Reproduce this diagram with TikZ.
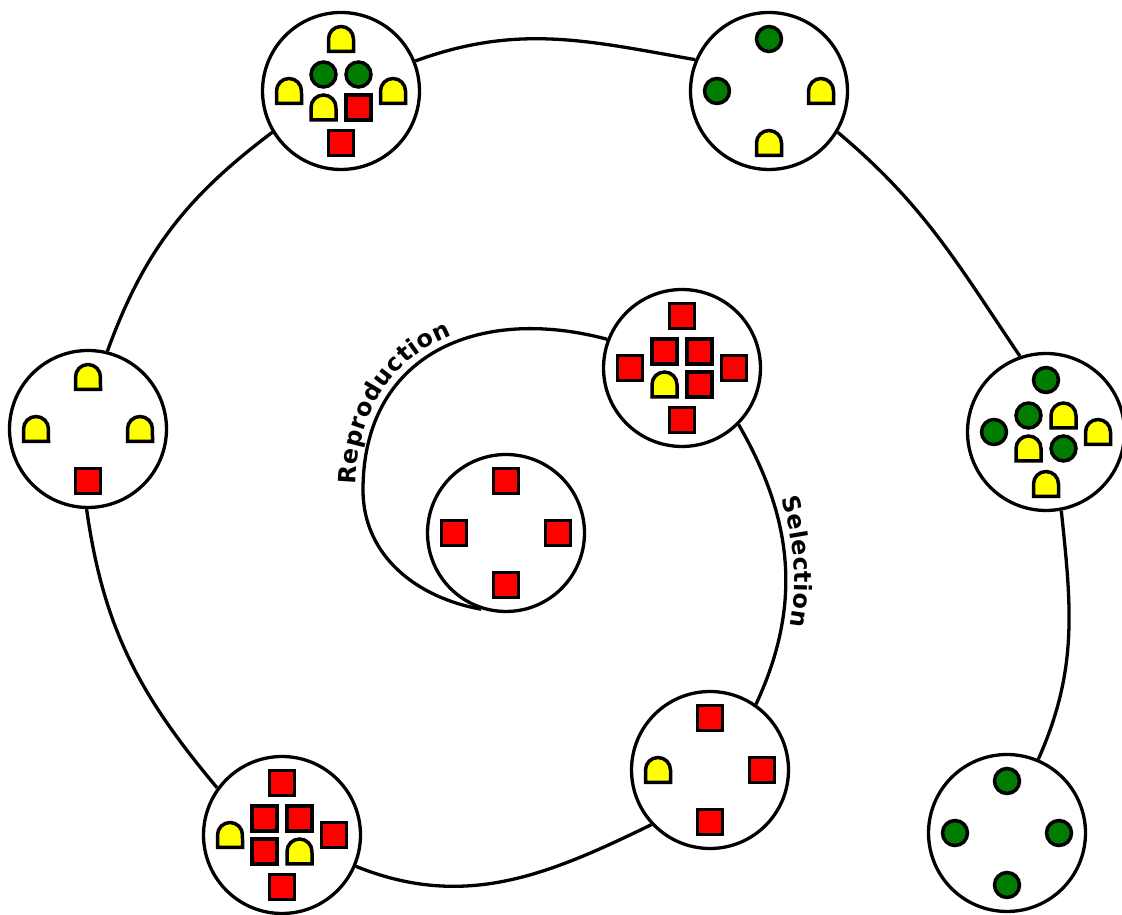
\documentclass[tikz,border=0pt]{standalone}
\usepackage{fontspec}
\newfontfamily\spiralfam{DejaVu Sans}
\usetikzlibrary{decorations.text}
\pgfdeclarelayer{bg}
\pgfsetlayers{bg,main}
\newcommand\spiralfont{\fontsize{13.6pt}{16pt}\selectfont\spiralfam\bfseries}
\definecolor{indred}{RGB}{255,0,0}
\definecolor{indyellow}{RGB}{255,255,0}
\definecolor{indgreen}{RGB}{0,125,0}
\tikzset{
    pop/.style={circle, draw, fill=white, line width=0.066cm, minimum size=3.14cm, inner sep=0mm},
    ind/.style={draw, line width=0.07cm, inner sep=0mm, minimum size=0.5cm},
    redsq/.style={ind, rectangle, fill=indred},
    greendot/.style={ind, circle, fill=indgreen},
    dome/.pic={
        \draw[line width=0.07cm, fill=indyellow] (-12.5,-12.5) -- (-12.5,0)
            arc[start angle=180, end angle=0, radius=0.25cm] -- (12.5,-12.5) -- cycle;
    },
    spiral/.style={line width=0.066cm}
}

\begin{document}
\begin{tikzpicture}[x=0.02cm, y=0.02cm]
        \useasboundingbox (0,0) rectangle (1122,915);
        % populations
        \node[pop] (pop0) at (506,382) {};
        \node[pop] (pop1) at (682,547) {};
        \node[pop] (pop2) at (710,145) {};
        \node[pop] (pop3) at (282,80) {};
        \node[pop] (pop4) at (88,486) {};
        \node[pop] (pop5) at (341,824) {};
        \node[pop] (pop6) at (769,824) {};
        \node[pop] (pop7) at (1046,483) {};
        \node[pop] (pop8) at (1007,82) {};
        \coordinate (rep) at (363,425);
        % individuals
        \begin{scope}[shift={(pop0)}]
                \node[redsq] (p0n) at (0,52) {};
                \node[redsq] (p0w) at (-52,0) {};
                \node[redsq] (p0e) at (52,0) {};
                \node[redsq] (p0s) at (0,-52) {};
        \end{scope}
        \begin{scope}[shift={(pop1)}]
                \node[redsq] (p1n) at (0,52) {};
                \node[redsq] (p1w) at (-52,0) {};
                \node[redsq] (p1e) at (52,0) {};
                \node[redsq] (p1s) at (0,-52) {};
                \node[redsq] (p1tl) at (-17.5,16.5) {};
                \node[redsq] (p1tr) at (17.5,16.5) {};
                \pic (p1bl) at (-17.5,-16.5) {dome};
                \node[redsq] (p1br) at (17.5,-16.5) {};
        \end{scope}
        \begin{scope}[shift={(pop2)}]
                \node[redsq] (p2n) at (0,52) {};
                \pic (p2w) at (-52,0) {dome};
                \node[redsq] (p2e) at (52,0) {};
                \node[redsq] (p2s) at (0,-52) {};
        \end{scope}
        \begin{scope}[shift={(pop3)}]
                \node[redsq] (p3n) at (0,52) {};
                \pic (p3w) at (-52,0) {dome};
                \node[redsq] (p3e) at (52,0) {};
                \node[redsq] (p3s) at (0,-52) {};
                \node[redsq] (p3tl) at (-17.5,16.5) {};
                \node[redsq] (p3tr) at (17.5,16.5) {};
                \node[redsq] (p3bl) at (-17.5,-16.5) {};
                \pic (p3br) at (17.5,-16.5) {dome};
        \end{scope}
        \begin{scope}[shift={(pop4)}]
                \pic (p4n) at (0,52) {dome};
                \pic (p4w) at (-52,0) {dome};
                \pic (p4e) at (52,0) {dome};
                \node[redsq] (p4s) at (0,-52) {};
        \end{scope}
        \begin{scope}[shift={(pop5)}]
                \pic (p5n) at (0,52) {dome};
                \pic (p5w) at (-52,0) {dome};
                \pic (p5e) at (52,0) {dome};
                \node[redsq] (p5s) at (0,-52) {};
                \node[greendot] (p5tl) at (-17.5,16.5) {};
                \node[greendot] (p5tr) at (17.5,16.5) {};
                \pic (p5bl) at (-17.5,-16.5) {dome};
                \node[redsq] (p5br) at (17.5,-16.5) {};
        \end{scope}
        \begin{scope}[shift={(pop6)}]
                \node[greendot] (p6n) at (0,52) {};
                \node[greendot] (p6w) at (-52,0) {};
                \pic (p6e) at (52,0) {dome};
                \pic (p6s) at (0,-52) {dome};
        \end{scope}
        \begin{scope}[shift={(pop7)}]
                \node[greendot] (p7n) at (0,52) {};
                \node[greendot] (p7w) at (-52,0) {};
                \pic (p7e) at (52,0) {dome};
                \pic (p7s) at (0,-52) {dome};
                \node[greendot] (p7tl) at (-17.5,16.5) {};
                \pic (p7tr) at (17.5,16.5) {dome};
                \pic (p7bl) at (-17.5,-16.5) {dome};
                \node[greendot] (p7br) at (17.5,-16.5) {};
        \end{scope}
        \begin{scope}[shift={(pop8)}]
                \node[greendot] (p8n) at (0,52) {};
                \node[greendot] (p8w) at (-52,0) {};
                \node[greendot] (p8e) at (52,0) {};
                \node[greendot] (p8s) at (0,-52) {};
        \end{scope}
        % the spiral
        \begin{pgfonlayer}{bg}
                \draw[spiral] (pop0.-108) to[out=170,in=270] (rep);
                \draw[spiral, postaction={decorate, decoration={text along path,
                        text={|\spiralfont|Reproduction}, raise=0.15cm,
                        text align={left indent=0.1cm}}}]
                        (rep) to[out=90,in=165,looseness=1.2] (pop1.159);
                \draw[spiral, postaction={decorate, decoration={text along path,
                        text={|\spiralfont|Selection}, raise=0.17cm,
                        text align=center}}]
                        (pop1.-45) to[out=-60,in=65] (pop2.55);
                \draw[spiral] (pop2.223) to[out=206,in=-22] (pop3.-23);
                \draw[spiral] (pop3.144) to[out=130,in=-82] (pop4.-91);
                \draw[spiral] (pop4.76) to[out=70,in=217] (pop5.211);
                \draw[spiral] (pop5.22) to[out=20,in=170] (pop6.157);
                \draw[spiral] (pop6.-31) to[out=-40,in=124] (pop7.109);
                \draw[spiral] (pop7.-79) to[out=-84,in=66] (pop8.67);
        \end{pgfonlayer}
\end{tikzpicture}
\end{document}
